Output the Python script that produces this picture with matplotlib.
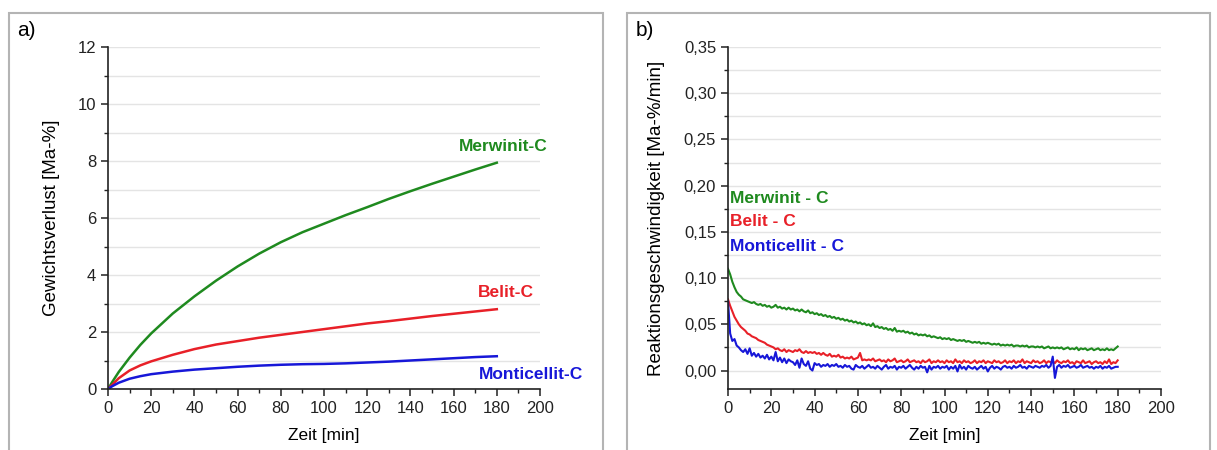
import numpy as np
import matplotlib
matplotlib.use("Agg")
import matplotlib.pyplot as plt
from matplotlib.patches import Rectangle
from matplotlib.ticker import MultipleLocator, FuncFormatter

plt.rcParams['font.family'] = ['Liberation Sans', 'DejaVu Sans']

# a) cumulative weight loss [Ma-%]
t_a = [0, 2, 5, 10, 15, 20, 30, 40, 50, 60, 70, 80, 90, 100, 110, 120, 130, 140, 150, 160, 170, 180]
merwinit_a = [0, 0.25, 0.6, 1.1, 1.55, 1.95, 2.65, 3.25, 3.8, 4.3, 4.75, 5.15, 5.5, 5.8, 6.1, 6.38, 6.67, 6.94, 7.2, 7.45, 7.7, 7.94]
belit_a = [0, 0.15, 0.38, 0.65, 0.83, 0.97, 1.2, 1.4, 1.56, 1.68, 1.8, 1.9, 2.0, 2.1, 2.2, 2.3, 2.38, 2.47, 2.56, 2.64, 2.72, 2.8]
monti_a = [0, 0.1, 0.22, 0.36, 0.45, 0.52, 0.61, 0.68, 0.73, 0.78, 0.82, 0.85, 0.87, 0.88, 0.9, 0.93, 0.96, 1.0, 1.04, 1.08, 1.12, 1.15]

# b) reaction rate [Ma-%/min], one value per minute 0..180
t_b = list(range(181))
merwinit_b = [
    0.110, 0.104, 0.096, 0.090, 0.085, 0.082, 0.080, 0.077, 0.076, 0.075,
    0.074, 0.073, 0.074, 0.072, 0.071, 0.072, 0.070, 0.071, 0.069, 0.070,
    0.068, 0.069, 0.071, 0.068, 0.069, 0.067, 0.068, 0.066, 0.068, 0.066,
    0.067, 0.065, 0.066, 0.064, 0.066, 0.064, 0.063, 0.065, 0.062, 0.063,
    0.061, 0.062, 0.060, 0.061, 0.059, 0.060, 0.058, 0.059, 0.057, 0.058,
    0.056, 0.057, 0.055, 0.056, 0.054, 0.055, 0.053, 0.054, 0.052, 0.053,
    0.051, 0.052, 0.050, 0.051, 0.049, 0.050, 0.048, 0.051, 0.047, 0.048,
    0.046, 0.047, 0.045, 0.046, 0.044, 0.045, 0.043, 0.046, 0.042, 0.043,
    0.042, 0.043, 0.041, 0.042, 0.040, 0.041, 0.039, 0.040, 0.038, 0.039,
    0.038, 0.039, 0.037, 0.038, 0.036, 0.037, 0.036, 0.035, 0.036, 0.034,
    0.035, 0.034, 0.035, 0.033, 0.034, 0.033, 0.032, 0.033, 0.032, 0.033,
    0.031, 0.032, 0.031, 0.030, 0.031, 0.030, 0.031, 0.029, 0.030, 0.029,
    0.030, 0.029, 0.028, 0.029, 0.028, 0.029, 0.027, 0.028, 0.027, 0.028,
    0.027, 0.028, 0.026, 0.027, 0.027, 0.026, 0.027, 0.026, 0.027, 0.025,
    0.026, 0.026, 0.025, 0.026, 0.025, 0.026, 0.024, 0.025, 0.026, 0.024,
    0.025, 0.024, 0.025, 0.024, 0.025, 0.023, 0.024, 0.025, 0.023, 0.024,
    0.023, 0.025, 0.022, 0.024, 0.023, 0.024, 0.022, 0.023, 0.024, 0.022,
    0.023, 0.024, 0.022, 0.023, 0.022, 0.024, 0.022, 0.023, 0.022, 0.024,
    0.026,
]
belit_b = [
    0.077, 0.070, 0.064, 0.058, 0.054, 0.050, 0.047, 0.045, 0.043, 0.040,
    0.039, 0.037, 0.036, 0.035, 0.033, 0.032, 0.031, 0.030, 0.028, 0.027,
    0.026, 0.025, 0.023, 0.024, 0.022, 0.021, 0.023, 0.020, 0.022, 0.021,
    0.020, 0.022, 0.021, 0.023, 0.020, 0.019, 0.021, 0.019, 0.020, 0.019,
    0.020, 0.018, 0.019, 0.017, 0.019, 0.017, 0.016, 0.018, 0.015, 0.016,
    0.015, 0.017, 0.014, 0.015, 0.013, 0.014, 0.013, 0.015, 0.012, 0.013,
    0.014, 0.019, 0.011, 0.012, 0.011, 0.012, 0.011, 0.013, 0.010, 0.011,
    0.012, 0.010, 0.011, 0.009, 0.012, 0.010, 0.011, 0.013, 0.009, 0.010,
    0.011, 0.009, 0.010, 0.012, 0.009, 0.010, 0.011, 0.009, 0.010, 0.008,
    0.011, 0.009, 0.010, 0.012, 0.008, 0.010, 0.009, 0.011, 0.009, 0.010,
    0.008, 0.011, 0.009, 0.010, 0.008, 0.012, 0.009, 0.010, 0.008, 0.011,
    0.009, 0.010, 0.008, 0.009, 0.011, 0.008, 0.010, 0.009, 0.011, 0.008,
    0.010, 0.009, 0.008, 0.011, 0.009, 0.010, 0.008, 0.009, 0.011, 0.008,
    0.010, 0.009, 0.011, 0.008, 0.010, 0.009, 0.012, 0.008, 0.010, 0.009,
    0.008, 0.011, 0.009, 0.010, 0.008, 0.009, 0.011, 0.008, 0.010, 0.009,
    0.010, 0.008, 0.011, 0.009, 0.008, 0.010, 0.009, 0.011, 0.008, 0.009,
    0.007, 0.010, 0.009, 0.008, 0.011, 0.008, 0.009, 0.010, 0.007, 0.009,
    0.010, 0.008, 0.009, 0.007, 0.010, 0.008, 0.012, 0.007, 0.009, 0.008,
    0.011,
]
monti_b = [
    0.075, 0.040, 0.032, 0.034, 0.027, 0.025, 0.022, 0.020, 0.023, 0.018,
    0.024, 0.016, 0.019, 0.015, 0.018, 0.014, 0.016, 0.013, 0.017, 0.012,
    0.015, 0.011, 0.020, 0.010, 0.014, 0.009, 0.013, 0.008, 0.012, 0.010,
    0.009, 0.006, 0.011, 0.003, 0.013, 0.007, 0.005, 0.010, 0.002, 0.000,
    0.008, 0.006, 0.007, 0.004, 0.006, 0.005, 0.007, 0.004, 0.006, 0.005,
    0.007, 0.004, 0.005, 0.003, 0.006, 0.004, 0.005, 0.002, 0.001, 0.006,
    0.004, 0.003, 0.005, 0.002, 0.004, 0.006, 0.003, 0.004, 0.002, 0.005,
    0.003, 0.001, 0.004, 0.006, 0.002, 0.004, 0.003, 0.005, 0.001, 0.004,
    0.003, 0.005, 0.002, 0.004, 0.006, 0.003, 0.001, 0.004, 0.002, 0.005,
    0.003, 0.004, -0.002, 0.005, 0.001, 0.004, 0.003, 0.005, 0.002, 0.004,
    0.003, 0.005, 0.001, 0.004, 0.002, 0.005, -0.001, 0.006, 0.002, 0.004,
    0.001, 0.005, 0.003, 0.002, 0.004, 0.001, 0.003, 0.005, 0.002, 0.004,
    -0.001, 0.003, 0.005, 0.002, 0.004, 0.003, 0.001, 0.004, 0.005, 0.003,
    0.004, 0.002, 0.005, 0.003, 0.004, 0.006, 0.003, 0.004, 0.002, 0.005,
    0.004, 0.003, 0.005, 0.004, 0.003, 0.005, 0.004, 0.006, 0.003, 0.005,
    0.015, -0.008, 0.004, 0.006, 0.003, 0.005, 0.004, 0.006, 0.003, 0.004,
    0.005, 0.003, 0.004, 0.006, 0.003, 0.004, 0.005, 0.003, 0.004, 0.002,
    0.004, 0.003, 0.005, 0.002, 0.004, 0.003, 0.005, 0.002, 0.003, 0.004,
    0.004,
]

GREEN = '#1f8a1f'
RED = '#e82028'
BLUE = '#1717d8'

W, H = 1217, 450
fig = plt.figure(figsize=(W / 100, H / 100), dpi=100)

# panel frames
for x0, x1 in [(9, 603), (627, 1210)]:
    fig.patches.append(Rectangle((x0 / W, -0.05), (x1 - x0) / W, 1.05 - 13 / H,
                                 transform=fig.transFigure, fill=False,
                                 edgecolor='#b4b4b4', lw=1.5))

ax1 = fig.add_axes([108 / W, 1 - 389 / H, 432 / W, 342 / H])
ax2 = fig.add_axes([728 / W, 1 - 389 / H, 433 / W, 342 / H])


def style(ax):
    for s in ['top', 'right']:
        ax.spines[s].set_visible(False)
    for s in ['left', 'bottom']:
        ax.spines[s].set_color('#222222')
        ax.spines[s].set_linewidth(1.2)
    ax.tick_params(which='major', direction='out', length=5, width=1.1, labelsize=12, colors='#222222')
    ax.tick_params(which='minor', direction='out', length=3, width=1.0, colors='#222222')
    ax.xaxis.set_major_locator(MultipleLocator(20))
    ax.xaxis.set_minor_locator(MultipleLocator(10))
    ax.set_xlim(0, 200)
    ax.grid(True, axis='y', which='both', color='#e4e4e4', lw=1.0)
    ax.set_axisbelow(True)
    ax.set_xlabel('Zeit [min]', fontsize=12.5)
    ax.xaxis.set_label_coords(0.5, -0.115)


style(ax1)
ax1.set_ylim(0, 12)
ax1.yaxis.set_major_locator(MultipleLocator(2))
ax1.yaxis.set_minor_locator(MultipleLocator(1))
ax1.plot(t_a, merwinit_a, color=GREEN, lw=1.8)
ax1.plot(t_a, belit_a, color=RED, lw=1.8)
ax1.plot(t_a, monti_a, color=BLUE, lw=1.8)
ax1.set_ylabel('Gewichtsverlust [Ma-%]', fontsize=13.5)
ax1.yaxis.set_label_coords(-0.111, 0.5)
ax1.text(183, 8.5, 'Merwinit-C', color=GREEN, fontsize=12.5, fontweight='bold', ha='center', va='center')
ax1.text(184, 3.4, 'Belit-C', color=RED, fontsize=12.5, fontweight='bold', ha='center', va='center')
ax1.text(196, 0.5, 'Monticellit-C', color=BLUE, fontsize=12.5, fontweight='bold', ha='center', va='center', clip_on=False)

style(ax2)
ax2.set_ylim(-0.02, 0.35)
ax2.yaxis.set_major_locator(MultipleLocator(0.05))
ax2.yaxis.set_minor_locator(MultipleLocator(0.025))
ax2.yaxis.set_major_formatter(FuncFormatter(lambda v, p: f"{v:.2f}".replace('.', ',')))
ax2.plot(t_b, merwinit_b, color=GREEN, lw=1.5)
ax2.plot(t_b, belit_b, color=RED, lw=1.5)
ax2.plot(t_b, monti_b, color=BLUE, lw=1.5)
ax2.set_ylabel('Reaktionsgeschwindigkeit [Ma-%/min]', fontsize=13.5)
ax2.yaxis.set_label_coords(-0.146, 0.5)
ax2.text(1, 0.186, 'Merwinit - C', color=GREEN, fontsize=12.5, fontweight='bold', ha='left', va='center')
ax2.text(1, 0.161, 'Belit - C', color=RED, fontsize=12.5, fontweight='bold', ha='left', va='center')
ax2.text(1, 0.134, 'Monticellit - C', color=BLUE, fontsize=12.5, fontweight='bold', ha='left', va='center')

fig.text(17 / W, 1 - 30 / H, 'a)', fontsize=15, ha='left', va='center')
fig.text(636 / W, 1 - 30 / H, 'b)', fontsize=15, ha='left', va='center')

fig.savefig('out.png', dpi=100, facecolor='white')
